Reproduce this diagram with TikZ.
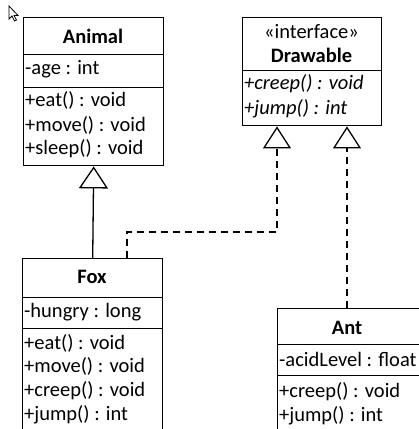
\documentclass[tikz,border=0pt]{standalone}
\usepackage{fontspec}
\setmainfont{Carlito}
\usetikzlibrary{arrows.meta}
\begin{document}
\begin{tikzpicture}[x=1pt,y=-1pt,
  part/.style={draw, line width=1.4pt, anchor=north west, inner sep=0pt, minimum width=140pt},
  label/.style={anchor=west, inner sep=0pt, font=\fontsize{20.5}{24.5}\selectfont},
  title/.style={inner sep=0pt, font=\fontsize{20.5}{24.5}\selectfont\bfseries},
  realize/.style={line width=1.3pt, dash pattern=on 7pt off 5pt,
    -{Triangle[open, length=22pt, width=28pt, line width=1.3pt]}},
  extend/.style={line width=1.3pt,
    -{Triangle[open, length=22pt, width=29pt, line width=1.3pt]}}]
\useasboundingbox (0,0) rectangle (419,429);
\clip (0,0) rectangle (419,429);

% mouse pointer
\draw[line width=0.8pt, fill=white] (9,6) -- (9,19) -- (12,16) -- (14.5,21) -- (16.5,20) -- (14,15.5) -- (18,15.5) -- cycle;

% class Animal
\node[part, minimum height=37pt] (animalH) at (23,17) {};
\node[part, minimum height=33pt] (animalA) at (23,54) {};
\node[part, minimum height=78pt] (animalM) at (23,87) {};
\node[title] (animalT) at (93,36) {Animal};
\node[label] (animalA1) at (25,69) {-age : int};
\node[label] (animalM1) at (25,100) {+eat() : void};
\node[label] (animalM2) at (25,125) {+move() : void};
\node[label] (animalM3) at (25,149) {+sleep() : void};

% interface Drawable
\node[part, minimum width=139pt, minimum height=53pt] (drawH) at (242,17) {};
\node[part, minimum width=139pt, minimum height=55pt] (drawM) at (242,70) {};
\node[inner sep=0pt, font=\fontsize{20.5}{24.5}\selectfont] (drawS) at (311.5,32) {«interface»};
\node[title] (drawT) at (311.5,55) {Drawable};
\node[label, font=\fontsize{20.5}{24.5}\selectfont\itshape] (drawM1) at (244,84) {+creep() : void};
\node[label, font=\fontsize{20.5}{24.5}\selectfont\itshape] (drawM2) at (244,109) {+jump() : int};

% class Fox
\node[part, minimum height=39pt] (foxH) at (22,258) {};
\node[part, minimum height=31pt] (foxA) at (22,297) {};
\node[part, minimum height=120pt] (foxM) at (22,328) {};
\node[title] (foxT) at (92,277) {Fox};
\node[label] (foxA1) at (24,312) {-hungry : long};
\node[label] (foxM1) at (24,343) {+eat() : void};
\node[label] (foxM2) at (24,366) {+move() : void};
\node[label] (foxM3) at (24,391) {+creep() : void};
\node[label] (foxM4) at (24,415) {+jump() : int};

% class Ant
\node[part, minimum width=150pt, minimum height=36pt] (antH) at (277,308) {};
\node[part, minimum width=150pt, minimum height=31pt] (antA) at (277,344) {};
\node[part, minimum width=150pt, minimum height=80pt] (antM) at (277,375) {};
\node[title] (antT) at (347,328) {Ant};
\node[label] (antA1) at (279,359) {-acidLevel : float};
\node[label] (antM1) at (279,392) {+creep() : void};
\node[label] (antM2) at (279,416) {+jump() : int};

% connector end points
\coordinate (drawL) at ([xshift=35pt]drawM.south west);
\coordinate (drawR) at ([xshift=105pt]drawM.south west);
\coordinate (foxIn) at ([xshift=105pt]foxH.north west);
\coordinate (antIn) at ([xshift=70pt]antH.north west);

% generalisation and realisations
\draw[extend] (foxH.north) -- (animalM.south);
\draw[realize] (foxIn) -- ++(0,-26) -| (drawL);
\draw[realize] (antIn) -- (drawR);
\end{tikzpicture}
\end{document}
